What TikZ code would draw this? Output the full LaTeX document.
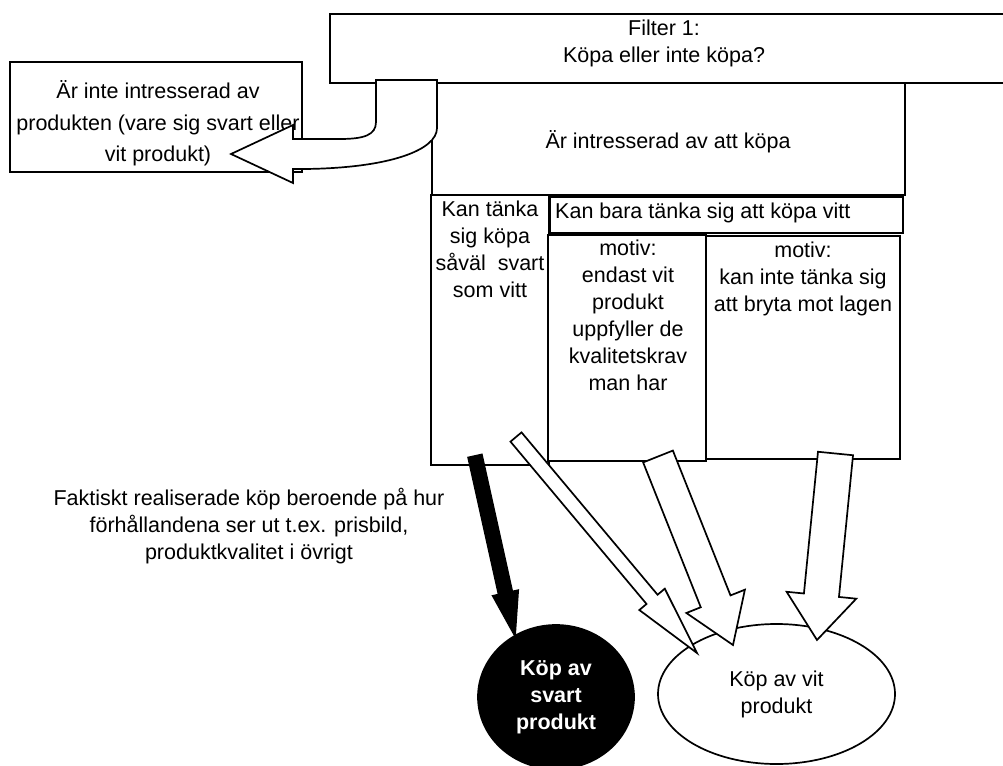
\documentclass[tikz,border=0pt]{standalone}
\usepackage{fontspec}
\setmainfont{Liberation Sans}
\usetikzlibrary{calc,shapes.geometric}

% block arrow: [style]{tail}{tip}{shaft half width}{head half width}{head length}
\newcommand{\blockarrow}[6][]{%
  \coordinate (ba-n) at ($(#3)!#6!(#2)$);
  \draw[bigarrow,#1] ($(#2)!#4!90:(#3)$) -- ($(ba-n)!#4!90:(#3)$)
    -- ($(ba-n)!#5!90:(#3)$) -- (#3) -- ($(ba-n)!#5!-90:(#3)$)
    -- ($(ba-n)!#4!-90:(#3)$) -- ($(#2)!#4!-90:(#3)$) -- cycle;
}

\begin{document}
\begin{tikzpicture}[x=1pt,y=-1pt,
  box/.style={draw,line width=1.7pt,fill=white,inner sep=0pt},
  txt/.style={inner sep=0pt,align=center,font=\fontsize{21.5}{27}\selectfont},
  bigarrow/.style={draw,line width=1.7pt,fill=white,line join=miter}]
\useasboundingbox (0,0) rectangle (1003,765);
\clip (0,0) rectangle (1003,765);

% boxes
\node[box,minimum width=473pt,minimum height=112pt] (intr) at (668.5,139) {};
\node[box,minimum width=680pt,minimum height=69pt] (filter) at (670,48.5) {};
\node[box,minimum width=292pt,minimum height=110pt] (inte) at (156,117) {};
\node[box,minimum width=118pt,minimum height=270pt] (bada) at (490,330) {};
\node[box,minimum width=353pt,minimum height=36pt] (vitt) at (726.5,215) {};
\node[box,minimum width=158pt,minimum height=226pt] (motiva) at (627,348) {};
\node[box,minimum width=194pt,minimum height=223pt] (motivb) at (803,347.5) {};

% texts
\node[txt] (filter-t) at (664,43.5) {Filter 1:\\Köpa eller inte köpa?};
\node[txt,font=\fontsize{21.5}{31.5}\selectfont] (inte-t) at (158,123.5)
  {Är inte intresserad av\\produkten (vare sig svart eller\\vit produkt)};
\node[txt] (intr-t) at (668,142) {Är intresserad av att köpa};
\node[txt] (bada-t) at (490,249) {Kan tänka\\sig köpa\\såväl \ svart\\som vitt};
\node[txt,anchor=west] (vitt-t) at (555,213) {Kan bara tänka sig att köpa vitt};
\node[txt] (motiva-t) at (628,315.5)
  {motiv:\\endast vit\\produkt\\uppfyller de\\kvalitetskrav\\man har};
\node[txt] (motivb-t) at (803,278.5) {motiv:\\kan inte tänka sig\\att bryta mot lagen};
\node[txt] (fakt) at (249,526.5)
  {Faktiskt realiserade köp beroende på hur\\förhållandena ser ut t.ex. prisbild,\\produktkvalitet i övrigt};

% curved arrow out of filter
\draw[bigarrow] (376,80) -- (376,122) .. controls (376,135) and (364,139) .. (340,139)
  -- (293,139) -- (293,125) -- (231,154) -- (293,183) -- (293,169) -- (305,169)
  .. controls (390,168) and (437,150) .. (437,128) -- (437,80) -- cycle;

% outcomes
\node[ellipse,draw,line width=1.7pt,fill=black,text=white,inner sep=0pt,align=center,
  font=\fontsize{21.5}{27}\selectfont\bfseries,minimum width=156pt,minimum height=144pt]
  (svart) at (556,697) {Köp av\\svart\\produkt};
\node[ellipse,draw,line width=1.7pt,fill=white,inner sep=0pt,align=center,
  font=\fontsize{21.5}{27}\selectfont,minimum width=237pt,minimum height=140pt]
  (vit) at (776.5,694) {Köp av vit\\produkt};

% block arrows
\coordinate (blk-s) at (475,456);
\coordinate (blk-e) at (515,636);
\coordinate (vit1-s) at (516,437);
\coordinate (vit1-e) at (697,653);
\coordinate (vit2-s) at (658,456.5);
\coordinate (vit2-e) at (733,645);
\coordinate (vit3-s) at (835.5,453.5);
\coordinate (vit3-e) at (817,640);
\blockarrow[fill=black]{blk-s}{blk-e}{7pt}{13pt}{44pt}
\blockarrow{vit1-s}{vit1-e}{7.2pt}{16.6pt}{70pt}
\blockarrow{vit2-s}{vit2-e}{16pt}{31.5pt}{47pt}
\blockarrow{vit3-s}{vit3-e}{17.6pt}{35pt}{45pt}
\end{tikzpicture}
\end{document}
